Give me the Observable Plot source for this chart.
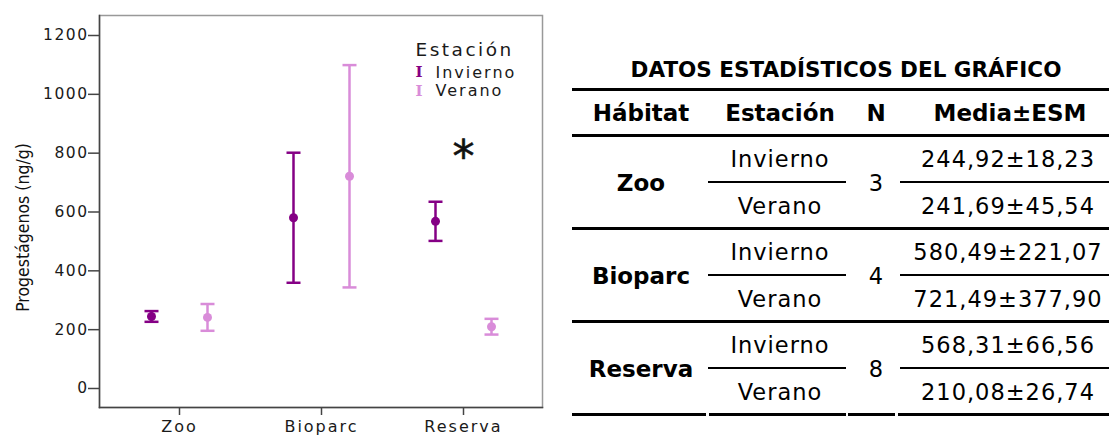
<!DOCTYPE html>
<html><head><meta charset="utf-8">
<script src="https://cdn.jsdelivr.net/npm/d3@7"></script>
<script src="https://cdn.jsdelivr.net/npm/@observablehq/plot@0.6"></script>
<style>
body{margin:0;background:#fff;width:1109px;height:436px;overflow:hidden;position:relative;font-family:"DejaVu Sans",Verdana,sans-serif;}
#chart{position:absolute;left:0;top:0;}
#table{position:absolute;left:0;top:0;width:1109px;height:436px;}
.t{position:absolute;white-space:nowrap;transform:translate(-50%,-50%);color:#000;line-height:1;}
.r{position:absolute;background:#000;}
#chart g[aria-label="y-axis tick label"] text{letter-spacing:1.5px;}
#chart g[aria-label="x-axis tick label"] text{letter-spacing:2px;}
#chart .leg text{letter-spacing:2px;}
#chart .legt text{letter-spacing:2.5px;}
</style></head><body>
<div id="chart"></div><div id="table"></div>
<script>
// ---- data ----
const habitats = ["Zoo", "Bioparc", "Reserva"];
const stations = ["Invierno", "Verano"];
const nValues = [3, 4, 8];
const meanInvierno = [244.92, 580.49, 568.31];
const esmInvierno = [18.23, 221.07, 66.56];
const meanVerano = [241.69, 721.49, 210.08];
const esmVerano = [45.54, 377.90, 26.74];
const yTicks = [0, 200, 400, 600, 800, 1000, 1200];
const significance = [{habitat: "Reserva", y: 735, label: "*"}];
const yLabel = "Progestágenos (ng/g)";
const legendTitle = "Estación";
const tableTitle = "DATOS ESTADÍSTICOS DEL GRÁFICO";
const tableHeaders = ["Hábitat", "Estación", "N", "Media±ESM"];

// ---- build rows ----
const rows = [];
habitats.forEach((h, i) => {
  rows.push({habitat: h, station: "Invierno", n: nValues[i], mean: meanInvierno[i], esm: esmInvierno[i]});
  rows.push({habitat: h, station: "Verano", n: nValues[i], mean: meanVerano[i], esm: esmVerano[i]});
});

// ---- styles ----
const colors = {Invierno: "#850085", Verano: "#d98cd9"};
const offsets = {Invierno: -28, Verano: 28};
const cap = {draw(ctx) { ctx.moveTo(-7, 0); ctx.lineTo(7, 0); }};

const marks = [
  Plot.frame({stroke: "#999", strokeWidth: 1.5}),
  Plot.frame({anchor: "left", stroke: "#444", strokeWidth: 1.5}),
  Plot.frame({anchor: "bottom", stroke: "#444", strokeWidth: 1.5}),
  Plot.axisY({ticks: yTicks, tickFormat: d => String(d), tickSize: 11, tickPadding: 0, fontSize: 15.5, label: null, stroke: "#444", strokeWidth: 1.5, fill: "#1a1a1a"}),
  Plot.axisX({tickSize: 8, tickPadding: 5, fontSize: 16, label: null, stroke: "#444", strokeWidth: 1.5, fill: "#1a1a1a"}),
  Plot.text([yLabel], {frameAnchor: "left", textAnchor: "middle", rotate: -90, dx: -76, dy: 16, fontSize: 17.5, fontFamily: "DejaVu Sans Condensed", fill: "#111"}),
  Plot.text([legendTitle], {frameAnchor: "top-left", textAnchor: "start", dx: 316, dy: 27, fontSize: 18.5, fill: "#1a1a1a", className: "legt"}),
  Plot.text(significance, {x: "habitat", y: "y", text: "label", fontSize: 44, lineAnchor: "bottom", fill: "#111", stroke: "#111", strokeWidth: 0.6})
];
stations.forEach((s, k) => {
  const data = rows.filter(d => d.station === s);
  const dx = offsets[s], c = colors[s];
  marks.push(
    Plot.ruleX(data, {x: "habitat", y1: d => d.mean - d.esm, y2: d => d.mean + d.esm, dx, stroke: c, strokeWidth: 2.5}),
    Plot.dot(data, {x: "habitat", y: d => d.mean - d.esm, dx, symbol: cap, stroke: c, fill: "none", strokeWidth: 2.5}),
    Plot.dot(data, {x: "habitat", y: d => d.mean + d.esm, dx, symbol: cap, stroke: c, fill: "none", strokeWidth: 2.5}),
    Plot.dot(data, {x: "habitat", y: "mean", dx, r: 4.5, fill: c}),
    Plot.text(["I"], {frameAnchor: "top-left", textAnchor: "start", dx: 316, dy: 51 + 18.5 * k, fontSize: 15, fontWeight: "bold", fontFamily: "DejaVu Serif", fill: c}),
    Plot.text([s], {frameAnchor: "top-left", textAnchor: "start", dx: 336, dy: 51 + 18.5 * k, fontSize: 16, fill: "#1a1a1a", className: "leg"})
  );
});

const chart = Plot.plot({
  width: 560, height: 436,
  marginLeft: 99, marginRight: 18, marginTop: 15, marginBottom: 29,
  style: {fontFamily: "DejaVu Sans", background: "transparent", color: "#222"},
  x: {type: "point", domain: habitats, padding: 0.554},
  y: {domain: [-64.6, 1268]},
  marks
});
document.getElementById("chart").append(chart);

// ---- table (HTML) ----
const T = document.getElementById("table");
function txt(s, cx, cy, size, bold, ls) {
  const e = document.createElement("div");
  e.className = "t"; e.textContent = s;
  e.style.left = cx + "px"; e.style.top = cy + "px";
  e.style.fontSize = size + "px"; e.style.fontWeight = bold ? "bold" : "normal";
  if (ls) e.style.letterSpacing = ls + "px";
  T.append(e);
}
function rule(x1, x2, y, th) {
  const e = document.createElement("div");
  e.className = "r";
  e.style.left = x1 + "px"; e.style.width = (x2 - x1) + "px";
  e.style.top = (y - th / 2) + "px"; e.style.height = th + "px";
  T.append(e);
}
const colX = [641, 780, 876, 1010];
const colL = [572, 709, 848, 898], colR = [706, 846, 895, 1109];
const fmt = v => v.toFixed(2).replace(".", ",");
txt(tableTitle, 846, 70, 21.5, true);
rule(572, 1109, 89, 3);
tableHeaders.forEach((h, j) => txt(h, colX[j], 113, 23, true));
rule(572, 1109, 135.5, 3);
habitats.forEach((h, i) => {
  const top = 135.5 + i * 93;
  const r = rows.filter(d => d.habitat === h);
  txt(h, colX[0], top + 47, 23, true);
  txt(String(nValues[i]), colX[2], top + 47, 22.5, false);
  r.forEach((d, k) => {
    const cy = top + 23.5 + k * 47;
    txt(d.station, colX[1], cy, 22.5, false, 1);
    txt(fmt(d.mean) + "±" + fmt(d.esm), colX[3] - 2, cy, 22.5, false, 1);
  });
  rule(708, 846, top + 46.5, 2);
  rule(900, 1109, top + 46.5, 2);
  if (i < habitats.length - 1) rule(572, 1109, top + 93, 3);
  else colL.forEach((l, j) => rule(l, colR[j], top + 93, 3));
});
</script>
</body></html>
